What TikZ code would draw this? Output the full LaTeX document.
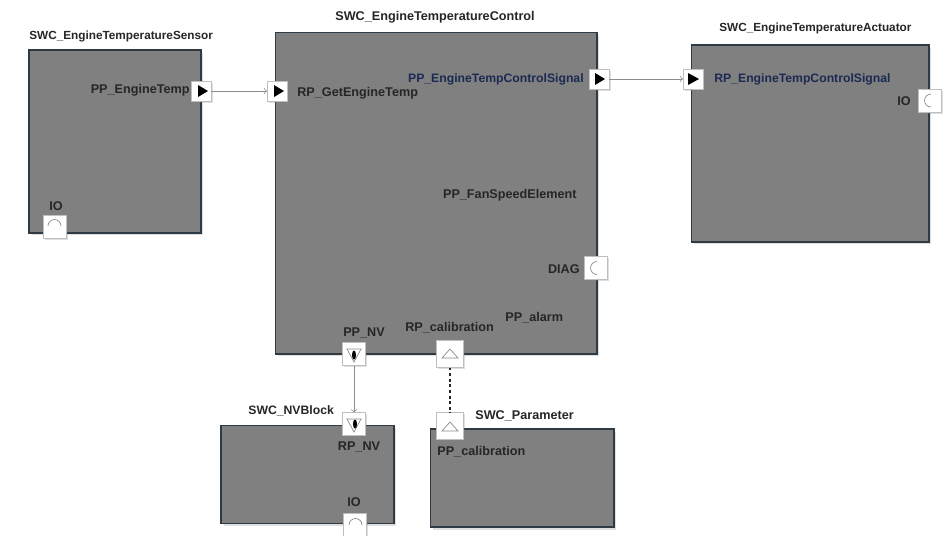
\documentclass[tikz,border=0pt]{standalone}
\usepackage{fontspec}
\newfontfamily\lblfont{Liberation Sans Bold}
\usetikzlibrary{shadows}
\definecolor{swcgray}{HTML}{808080}
\definecolor{swcedge}{HTML}{2E3A44}
\definecolor{sigblue}{HTML}{1B2A52}
\definecolor{lineg}{HTML}{8C8C8C}
\begin{document}
\begin{tikzpicture}[x=0.02cm,y=-0.02cm,
	swc/.style={draw=swcedge,fill=swcgray,line width=0.6pt,inner sep=0,outer sep=0,
		drop shadow={shadow xshift=0.05cm,shadow yshift=-0.05cm,fill=black!50,opacity=0.25}},
	port/.style={draw=black!25,fill=white,line width=0.5pt,inner sep=0,outer sep=0,
		drop shadow={shadow xshift=0.03cm,shadow yshift=-0.03cm,fill=black!50,opacity=0.25}},
	lbl/.style={inner sep=0,font=\lblfont\fontsize{7.2}{8}\selectfont,text=black!85},
	title/.style={inner sep=0,font=\lblfont\fontsize{6.7}{8}\selectfont,text=black!85},
	sig/.style={inner sep=0,font=\lblfont\fontsize{6.95}{8}\selectfont,text=sigblue},
	wire/.style={draw=lineg,line width=0.4pt,->},
	glyph/.style={draw=black!45,line width=0.4pt}]

\clip (0,0) rectangle (945,535);
\fill[white] (0,0) rectangle (945,535);

% blocks
\node[swc,minimum width=3.44cm,minimum height=3.66cm] (sensor) at (115,141.5) {};
\node[swc,minimum width=6.44cm,minimum height=6.44cm] (control) at (436,193) {};
\node[swc,minimum width=4.76cm,minimum height=3.94cm] (actuator) at (810,143.5) {};
\node[swc,minimum width=3.46cm,minimum height=1.96cm] (nvblock) at (307.5,474.5) {};
\node[swc,minimum width=3.68cm,minimum height=1.96cm] (parameter) at (522,478) {};

% block titles
\node[title,anchor=west] (sensortitle) at (29,36) {SWC\_EngineTemperatureSensor};
\node[lbl,anchor=west] (controltitle) at (335,17) {SWC\_EngineTemperatureControl};
\node[title,anchor=west] (actuatortitle) at (719,28) {SWC\_EngineTemperatureActuator};
\node[sig,text=black!85,anchor=west] (nvtitle) at (248,411) {SWC\_NVBlock};
\node[lbl,anchor=west] (paramtitle) at (475,416) {SWC\_Parameter};

% port labels
\node[lbl,anchor=east] (ppenginelbl) at (190,90) {PP\_EngineTemp};
\node[lbl] (sensoriolbl) at (56,206) {IO};
\node[lbl,anchor=west] (rpgetlbl) at (297,93) {RP\_GetEngineTemp};
\node[sig,anchor=east] (ppsignallbl) at (584,79) {PP\_EngineTempControlSignal};
\node[lbl,anchor=east] (ppfanlbl) at (577,195) {PP\_FanSpeedElement};
\node[lbl,anchor=east] (diaglbl) at (580,269) {DIAG};
\node[lbl,anchor=west] (ppalarmlbl) at (505,318) {PP\_alarm};
\node[lbl,anchor=west] (rpcallbl) at (405,328) {RP\_calibration};
\node[lbl] (ppnvlbl) at (364,333) {PP\_NV};
\node[sig,anchor=west] (rpsignallbl) at (714,79) {RP\_EngineTempControlSignal};
\node[lbl,anchor=east] (actiolbl) at (911,101) {IO};
\node[lbl] (rpnvlbl) at (359,447) {RP\_NV};
\node[lbl] (nviolbl) at (354,502) {IO};
\node[lbl,anchor=west] (ppcallbl) at (437,452) {PP\_calibration};

% ports
\node[port,minimum size=0.4cm] (ppengine) at (201,91) {};
\node[port,minimum size=0.4cm] (rpget) at (277,91) {};
\node[port,minimum size=0.4cm] (ppsignal) at (599,79) {};
\node[port,minimum size=0.4cm] (rpsignal) at (693,79) {};
\node[port,minimum size=0.46cm] (sensorio) at (55,226.5) {};
\node[port,minimum size=0.46cm] (actio) at (929.5,100.5) {};
\node[port,minimum size=0.46cm] (diag) at (596,268) {};
\node[port,minimum size=0.46cm] (ppnv) at (354,354) {};
\node[port,minimum size=0.46cm] (rpnv) at (354,424) {};
\node[port,minimum size=0.46cm] (nvio) at (355,525) {};
\node[port,minimum size=0.54cm] (rpcal) at (450,354) {};
\node[port,minimum size=0.54cm] (ppcal) at (450,426) {};

% connectors
\draw[wire] (ppengine.east) -- (rpget.west);
\draw[wire] (ppsignal.east) -- (rpsignal.west);
\draw[wire] (ppnv.south) -- (rpnv.north);
\draw[black!85,line width=0.6pt,dash pattern=on 1.7pt off 1.5pt] (rpcal.south) -- (ppcal.north);

% port glyphs
\fill (198,85) -- (208,91) -- (198,97) -- cycle;
\fill (274,85) -- (284,91) -- (274,97) -- cycle;
\fill (595,73) -- (605,79) -- (595,85) -- cycle;
\fill (688,73) -- (699,79) -- (688,85) -- cycle;
\draw[glyph] (48,226) arc (180:360:6.5);
\draw[glyph] (349,525) arc (180:360:6.5);
\draw[glyph] (931,94) arc (270:90:6.5);
\draw[glyph] (597,261.5) arc (270:90:6.5);
\draw[glyph] (347,349) -- (361,349) -- (354,362) -- cycle;
\fill (354,355) ellipse (2 and 4.5);
\draw[glyph] (347,419) -- (361,419) -- (354,432) -- cycle;
\fill (355,424) ellipse (2 and 4.5);
\draw[glyph] (442,358) -- (458,358) -- (450,349) -- cycle;
\draw[glyph] (442,431) -- (458,431) -- (450,422) -- cycle;

\end{tikzpicture}
\end{document}
